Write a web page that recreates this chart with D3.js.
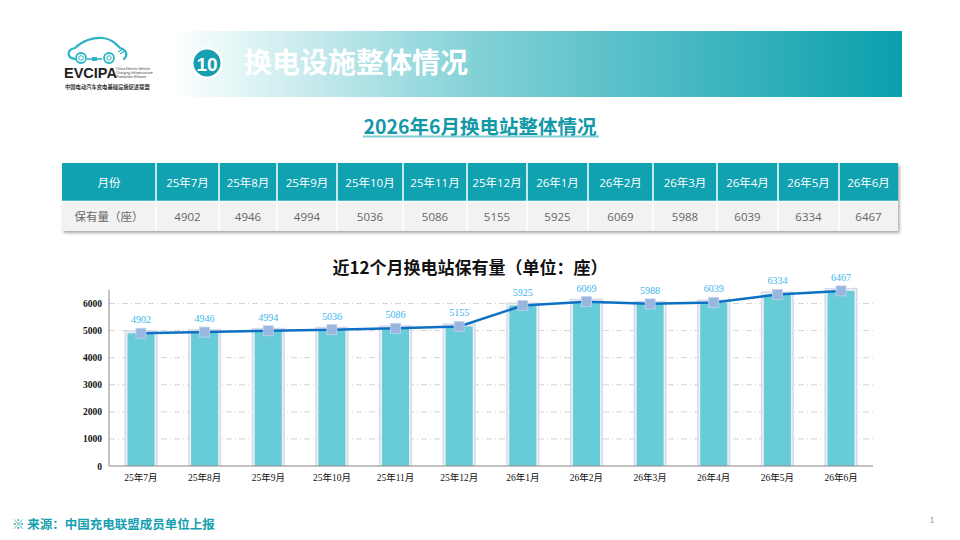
<!DOCTYPE html>
<html><head><meta charset="utf-8">
<script src="https://cdn.jsdelivr.net/npm/d3@7/dist/d3.min.js"></script>
<style>
html,body{margin:0;padding:0;background:#fff;}
svg{display:block;font-family:"Noto Sans CJK SC","Open Sans",sans-serif;}
</style></head>
<body>
<svg id="c" width="960" height="540"></svg>
<script>
// ---- data ----
const months = ["25年7月","25年8月","25年9月","25年10月","25年11月","25年12月","26年1月","26年2月","26年3月","26年4月","26年5月","26年6月"];
const stations = [4902,4946,4994,5036,5086,5155,5925,6069,5988,6039,6334,6467];
const yTicks = [0,1000,2000,3000,4000,5000,6000];
const pageTitle = "换电设施整体情况";
const sectionNo = "10";
const tableTitle = "2026年6月换电站整体情况";
const tableRowHeads = ["月份","保有量（座）"];
const chartTitle = "近12个月换电站保有量（单位：座）";
const sourceText = "※  来源：中国充电联盟成员单位上报";

(function(){
// ---- layout ----
const colEdges = [62,156,219,277,337,403,467,527,588,653,717,778,839,898];

const svg = d3.select("#c");
const defs = svg.append("defs");

// header banner gradient
const g1 = defs.append("linearGradient").attr("id","hdr").attr("x1","0").attr("x2","1");
g1.append("stop").attr("offset","0").attr("stop-color","#ffffff");
g1.append("stop").attr("offset","0.42").attr("stop-color","#82d1d7");
g1.append("stop").attr("offset","1").attr("stop-color","#0a9fad");
svg.append("rect").attr("x",170).attr("y",31).attr("width",732).attr("height",66).attr("fill","url(#hdr)");

// section number circle
svg.append("circle").attr("cx",207).attr("cy",63).attr("r",16).attr("fill","#ffffff").attr("opacity",0.9);
svg.append("circle").attr("cx",207).attr("cy",63).attr("r",13.5).attr("fill","#179fb0");
svg.append("text").attr("x",207).attr("y",70.5).attr("text-anchor","middle")
  .attr("font-size",19).attr("font-weight",700).attr("fill","#fff").attr("font-family","Liberation Sans, Arial, sans-serif").text(sectionNo);
svg.append("text").attr("x",244).attr("y",73).attr("font-size",28).attr("font-weight",700)
  .attr("fill","#fff").text(pageTitle);

// logo (approximate)
const logo = svg.append("g");
const tc = "#2ab4c6";
logo.append("path").attr("d","M75,59 C67,58 66,50 75,48 C82,41 93,37 103,38 C112,39 116,44 120,48 C127,50 128,55 124,59")
  .attr("fill","none").attr("stroke",tc).attr("stroke-width",2.2).attr("stroke-linecap","round");
logo.append("path").attr("d","M87,59 L102,59").attr("stroke",tc).attr("stroke-width",1.6);
[[81,58],[109,58]].forEach(p=>{
  logo.append("circle").attr("cx",p[0]).attr("cy",p[1]).attr("r",5).attr("fill","#fff").attr("stroke",tc).attr("stroke-width",1.8);
  logo.append("circle").attr("cx",p[0]).attr("cy",p[1]).attr("r",2.3).attr("fill","none").attr("stroke",tc).attr("stroke-width",1);
});
logo.append("rect").attr("x",92).attr("y",57).attr("width",5).attr("height",4).attr("fill",tc);
logo.append("path").attr("d","M118,52 l5,-3 M120,54 l5,-3").attr("stroke",tc).attr("stroke-width",1.2);
logo.append("text").attr("x",64).attr("y",78).attr("font-size",14.5).attr("font-weight",700).attr("fill","#222")
  .attr("font-family","Liberation Sans, Arial, sans-serif").text("EVCIPA");
["China Electric Vehicle","Charging Infrastructure","Promotion Alliance"].forEach((t,i)=>{
  logo.append("text").attr("x",116).attr("y",70+i*3.8).attr("font-size",3.4).attr("fill","#333").text(t);
});
logo.append("text").attr("x",65).attr("y",89).attr("font-size",5.3).attr("font-weight",700).attr("fill","#333").text("中国电动汽车充电基础设施促进联盟");

// table title
svg.append("text").attr("x",480).attr("y",134).attr("text-anchor","middle").attr("font-size",19.5).attr("font-weight",700)
  .attr("fill","#1398a8").text(tableTitle);
svg.append("rect").attr("x",363).attr("y",135.5).attr("width",236).attr("height",2).attr("fill","#7fcfd6");

// table
const tbl = svg.append("g");
const fshadow = defs.append("filter").attr("id","sh").attr("x","-5%").attr("y","-20%").attr("width","110%").attr("height","150%");
fshadow.append("feDropShadow").attr("dx",1.5).attr("dy",2).attr("stdDeviation",1.5).attr("flood-color","#000").attr("flood-opacity",0.35);
tbl.append("rect").attr("x",62).attr("y",163).attr("width",836).attr("height",68).attr("fill","#f2f2f2").attr("filter","url(#sh)");
tbl.append("rect").attr("x",62).attr("y",163).attr("width",836).attr("height",38).attr("fill","#10a2b1");
const cols = [tableRowHeads[0]].concat(months);
const vals = [tableRowHeads[1]].concat(stations.map(String));
cols.forEach((c,i)=>{
  const x0 = colEdges[i], x1 = colEdges[i+1], cx=(x0+x1)/2;
  tbl.append("text").attr("x",cx).attr("y",187).attr("text-anchor","middle").attr("font-size",11.5)
    .attr("fill","#fff").attr("font-family","Open Sans, Noto Sans CJK SC, sans-serif").text(c);
  tbl.append("text").attr("x",cx).attr("y",221).attr("text-anchor","middle").attr("font-size",11.5)
    .attr("fill","#666").attr("font-family","Open Sans, Noto Sans CJK SC, sans-serif").text(vals[i]);
  if(i>0){
    tbl.append("line").attr("x1",x0).attr("x2",x0).attr("y1",163).attr("y2",231).attr("stroke","#fff").attr("stroke-width",1.5);
  }
});
tbl.append("line").attr("x1",62).attr("x2",898).attr("y1",201.5).attr("y2",201.5).attr("stroke","#fff").attr("stroke-width",1.5);

// chart
svg.append("text").attr("x",470).attr("y",274).attr("text-anchor","middle").attr("font-size",17).attr("font-weight",700)
  .attr("fill","#111").text(chartTitle);

const pL=109, pR=873, pT=290, pB=466;
const x = d3.scaleBand().domain(months).range([pL,pR]).paddingInner(0.575).paddingOuter(0.29);
const y = d3.scaleLinear().domain([0,6500]).range([pB,pT]);

const ch = svg.append("g");
// gridlines
ch.selectAll(".grid").data(yTicks.filter(d=>d>0)).join("line")
  .attr("x1",pL).attr("x2",pR).attr("y1",d=>y(d)).attr("y2",d=>y(d))
  .attr("stroke","#c8c8c8").attr("stroke-width",0.8).attr("stroke-dasharray","6,3,1,3");

// bars with bevel
const bw = x.bandwidth();
ch.selectAll(".bs").data(stations).join("rect")
  .attr("x",(d,i)=>x(months[i])-3).attr("width",bw+6)
  .attr("y",d=>y(d)-3).attr("height",d=>pB-y(d)+3).attr("fill","#d5dae6");
ch.selectAll(".bs2").data(stations).join("rect")
  .attr("x",(d,i)=>x(months[i])-1.5).attr("width",bw+3)
  .attr("y",d=>y(d)-1.5).attr("height",d=>pB-y(d)+1.5).attr("fill","#eef0f5");
ch.selectAll(".bar").data(stations).join("rect")
  .attr("x",(d,i)=>x(months[i])).attr("width",bw)
  .attr("y",d=>y(d)).attr("height",d=>pB-y(d)).attr("fill","#67cbd8");

// axes
const yAxis = d3.axisLeft(y).tickValues(yTicks).tickFormat(d3.format("d")).tickSize(0).tickPadding(7);
const ya = ch.append("g").attr("transform",`translate(${pL},0)`).call(yAxis);
ya.select(".domain").attr("stroke","#888").attr("d",`M0,${pT}V${pB}`);
ya.selectAll("text").attr("font-size",9.5).attr("font-weight",700).attr("fill","#111")
  .attr("font-family","Liberation Serif, DejaVu Serif, serif");
const xAxis = d3.axisBottom(x).tickSize(0).tickPadding(8);
const xa = ch.append("g").attr("transform",`translate(0,${pB})`).call(xAxis);
xa.select(".domain").attr("stroke","#888").attr("d",`M${pL},0H${pR}`);
xa.selectAll("text").attr("font-size",9.5).attr("fill","#111")
  .attr("font-family","Liberation Serif, Noto Sans CJK SC, serif");

// line
const cxf = (d,i)=>x(months[i])+bw/2;
const line = d3.line().x(cxf).y(d=>y(d));
ch.append("path").datum(stations).attr("d",line).attr("fill","none").attr("stroke","#0d70c4").attr("stroke-width",2.5);
ch.selectAll(".mk").data(stations).join("rect")
  .attr("x",(d,i)=>cxf(d,i)-5).attr("y",d=>y(d)-5).attr("width",10).attr("height",10)
  .attr("fill","#98b6de").attr("stroke","#c2d3ec").attr("stroke-width",0.8);
ch.selectAll(".lb").data(stations).join("text")
  .attr("x",cxf).attr("y",d=>y(d)-10).attr("text-anchor","middle").attr("font-size",10)
  .attr("fill","#3cb6ee").attr("font-family","Liberation Serif, DejaVu Serif, serif").text(d=>d);

// footer
svg.append("text").attr("x",12).attr("y",529).attr("font-size",12.5).attr("font-weight",700).attr("fill","#14a0b0").text(sourceText);
svg.append("text").attr("x",932).attr("y",523).attr("font-size",8).attr("fill","#888").attr("text-anchor","middle").text("1");
})();
</script>
</body></html>
